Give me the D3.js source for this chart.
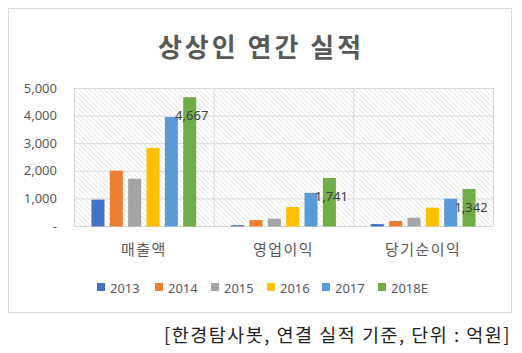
<!DOCTYPE html>
<html>
<head>
<meta charset="utf-8">
<script src="https://cdn.jsdelivr.net/npm/d3@7"></script>
<style>
  body{margin:0;background:#fff;}
  svg{display:block;font-family:"Noto Sans CJK KR","Noto Sans",sans-serif;}
</style>
</head>
<body>
<svg id="chart" width="522" height="353"></svg>
<script>
const categories=["매출액","영업이익","당기순이익"];
const years=["2013","2014","2015","2016","2017","2018E"];
const colors=["#4472C4","#ED7D31","#A5A5A5","#FFC000","#5B9BD5","#70AD47"];
// rows = categories, columns = years (억원)
const sales=[955,2005,1715,2830,3950,4667];
const opProfit=[30,215,265,690,1200,1741];
const netProfit=[70,180,300,665,990,1342];
const yTicks=[0,1000,2000,3000,4000,5000];

const values=[sales,opProfit,netProfit];
const svg=d3.select("#chart");
const L=74,R=493,T=88,B=226;

// outer frame
svg.append("rect").attr("x",8.5).attr("y",8.5).attr("width",503).attr("height",304)
  .attr("fill","#fff").attr("stroke","#d9d9d9");

const defs=svg.append("defs");
defs.append("pattern").attr("id","hatch").attr("patternUnits","userSpaceOnUse")
  .attr("width",5).attr("height",5)
  .append("path").attr("d","M0,0L5,5M-1,4L1,6M4,-1L6,1")
  .attr("stroke","#e0e0e0").attr("stroke-width",0.9);

svg.append("text").attr("x",261).attr("y",57).attr("text-anchor","middle")
  .attr("font-size",26).attr("font-weight","bold").attr("fill","#595959")
  .attr("letter-spacing",3)
  .text("상상인 연간 실적");

const x0=d3.scaleBand().domain(categories).range([L,R]);
const x1=d3.scaleBand().domain(years).range([0,x0.bandwidth()]).paddingInner(0.29).paddingOuter(0.95);
const y=d3.scaleLinear().domain([0,5000]).range([B,T]);

svg.append("rect").attr("x",L).attr("y",T).attr("width",R-L).attr("height",B-T).attr("fill","url(#hatch)");

// gridlines
svg.append("g").selectAll("line").data(yTicks).join("line")
  .attr("x1",L).attr("x2",R).attr("y1",d=>y(d)+0.5).attr("y2",d=>y(d)+0.5)
  .attr("stroke","#d9d9d9");
svg.append("g").selectAll("line").data(categories.concat([null])).join("line")
  .attr("x1",(d,i)=>(i<categories.length?x0(d):R)+0.5).attr("x2",(d,i)=>(i<categories.length?x0(d):R)+0.5)
  .attr("y1",T).attr("y2",B).attr("stroke","#d9d9d9");

// y axis
const ya=svg.append("g").attr("transform",`translate(${L},0)`)
  .call(d3.axisLeft(y).tickValues(yTicks).tickSize(0).tickPadding(17)
    .tickFormat(d=>d===0?"-":d3.format(",")(d)));
ya.select(".domain").remove();
ya.selectAll("text").attr("font-size",13).attr("fill","#595959").attr("font-family","'Noto Sans','Noto Sans CJK KR',sans-serif");

// bars
const groups=svg.append("g").selectAll("g").data(categories).join("g")
  .attr("transform",d=>`translate(${x0(d)},0)`);
groups.selectAll("rect").data((d,i)=>values[i].map((v,j)=>({v,j}))).join("rect")
  .attr("x",d=>x1(years[d.j])).attr("width",x1.bandwidth())
  .attr("y",d=>y(d.v)).attr("height",d=>B-y(d.v)+0.5)
  .attr("fill",d=>colors[d.j]);
// 2018E labels
groups.append("text")
  .attr("x",x1("2018E")+x1.bandwidth()/2+2)
  .attr("y",(d,i)=>y(values[i][5])+23)
  .attr("text-anchor","middle").attr("font-size",13).attr("fill","#404040")
  .attr("font-family","'Noto Sans',sans-serif")
  .text((d,i)=>d3.format(",")(values[i][5]));

// x labels
svg.append("g").selectAll("text").data(categories).join("text")
  .attr("x",d=>x0(d)+x0.bandwidth()/2).attr("y",255).attr("text-anchor","middle")
  .attr("font-size",15).attr("letter-spacing",1.5).attr("fill","#595959").text(d=>d);

// legend
const legX=[97,155,211,267,322,378];
const leg=svg.append("g").selectAll("g").data(years).join("g")
  .attr("transform",(d,i)=>`translate(${legX[i]},288)`);
leg.append("rect").attr("x",0).attr("y",-5).attr("width",8).attr("height",8).attr("fill",(d,i)=>colors[i]);
leg.append("text").attr("x",13).attr("y",4.5).attr("font-size",13).attr("fill","#595959")
  .attr("font-family","'Noto Sans',sans-serif").text(d=>d);

svg.append("text").attr("x",511).attr("y",342).attr("text-anchor","end")
  .attr("font-size",18.5).attr("letter-spacing",1.5).attr("fill","#222").text("[한경탐사봇, 연결 실적 기준, 단위 : 억원]");
</script>
</body>
</html>
